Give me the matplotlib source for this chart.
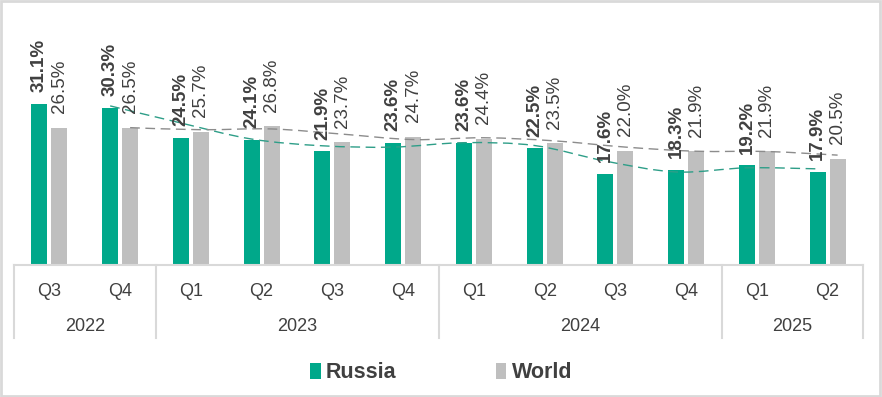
import matplotlib.pyplot as plt
import numpy as np
from matplotlib.patches import Patch, Rectangle, PathPatch
from matplotlib.path import Path

quarters = ["Q3", "Q4", "Q1", "Q2", "Q3", "Q4", "Q1", "Q2", "Q3", "Q4", "Q1", "Q2"]
years = ["2022", "2023", "2024", "2025"]
year_sizes = [2, 4, 4, 2]
russia = [31.1, 30.3, 24.5, 24.1, 21.9, 23.6, 23.6, 22.5, 17.6, 18.3, 19.2, 17.9]
world = [26.5, 26.5, 25.7, 26.8, 23.7, 24.7, 24.4, 23.5, 22.0, 21.9, 21.9, 20.5]

GREEN = "#00A88A"
GREY = "#BFBFBF"
TEXT = "#404040"
LINE = "#D9D9D9"

plt.rcParams['font.family'] = ['Liberation Sans', 'DejaVu Sans']


def moving_average(vals, n=2):
    """Excel style moving-average trendline (period n)."""
    vals = np.asarray(vals, dtype=float)
    return np.convolve(vals, np.ones(n) / n, mode='valid')


def smooth_path(xs, ys):
    """Catmull-Rom curve through the points, as cubic bezier segments."""
    pts = np.column_stack([xs, ys])
    verts = [pts[0]]
    codes = [Path.MOVETO]
    for i in range(len(pts) - 1):
        p0 = pts[i - 1] if i > 0 else pts[i]
        p1, p2 = pts[i], pts[i + 1]
        p3 = pts[i + 2] if i + 2 < len(pts) else pts[i + 1]
        c1 = p1 + (p2 - p0) / 6.0
        c2 = p2 - (p3 - p1) / 6.0
        verts += [c1, c2, p2]
        codes += [Path.CURVE4] * 3
    return Path(verts, codes)


fig = plt.figure(figsize=(8.82, 3.97), dpi=100)
ax = fig.add_axes([14 / 882, 132 / 397, 849 / 882, 255 / 397])

x = np.arange(len(quarters))
width = 0.226
off = 0.141
ax.bar(x - off, russia, width, color=GREEN, zorder=2)
ax.bar(x + off, world, width, color=GREY, zorder=2)

# trendlines (2 period moving average)
for vals, xo, col in [(russia, -off, "#2E9E88"), (world, off, "#8C8C8C")]:
    ma = moving_average(vals)
    path = smooth_path(x[1:] + xo, ma)
    ax.add_patch(PathPatch(path, fill=False, edgecolor=col, lw=1.0,
                           linestyle=(0, (7, 4)), zorder=3))

for i in range(len(quarters)):
    ax.annotate(f"{russia[i]:.1f}%", (x[i] - off, russia[i]), xytext=(0, 8.5),
                textcoords='offset points', rotation=90, ha='center', va='bottom',
                fontsize=13.5, fontweight='bold', color=TEXT, zorder=4)
    ax.annotate(f"{world[i]:.1f}%", (x[i] + off, world[i]), xytext=(0, 10.5),
                textcoords='offset points', rotation=90, ha='center', va='bottom',
                fontsize=13.5, color=TEXT, zorder=4)

ax.set_xlim(-0.5, len(quarters) - 0.5)
ax.set_ylim(0, 49.2)
for s in ['top', 'left', 'right']:
    ax.spines[s].set_visible(False)
ax.spines['bottom'].set_color(LINE)
ax.spines['bottom'].set_linewidth(1.5)
ax.set_yticks([])
ax.set_xticks([])

# two level category axis
trans = ax.get_xaxis_transform()
bounds = np.concatenate([[0], np.cumsum(year_sizes)]) - 0.5
for b in bounds:
    ax.plot([b, b], [0, -0.286], transform=trans, color=LINE, lw=1.5,
            clip_on=False)
for i, q in enumerate(quarters):
    ax.text(x[i], -0.102, q, transform=trans, ha='center', va='center',
            fontsize=13, color=TEXT)
for j, yr in enumerate(years):
    ax.text((bounds[j] + bounds[j + 1]) / 2, -0.243, yr, transform=trans,
            ha='center', va='center', fontsize=13, color=TEXT)

handles = [Patch(facecolor=GREEN, label="Russia"), Patch(facecolor=GREY, label="World")]
leg = fig.legend(handles=handles, loc='center', bbox_to_anchor=(0.5, 24 / 397), ncol=2,
                 frameon=False, handlelength=0.5, handleheight=0.8, handletextpad=0.25,
                 columnspacing=4.6, prop={'size': 15.5, 'weight': 'bold'})
for t in leg.get_texts():
    t.set_color(TEXT)

fig.patches.append(Rectangle((0.001, 0.002), 0.997, 0.995, transform=fig.transFigure,
                             fill=False, edgecolor=LINE, lw=2))

fig.savefig("out.png", dpi=100)
